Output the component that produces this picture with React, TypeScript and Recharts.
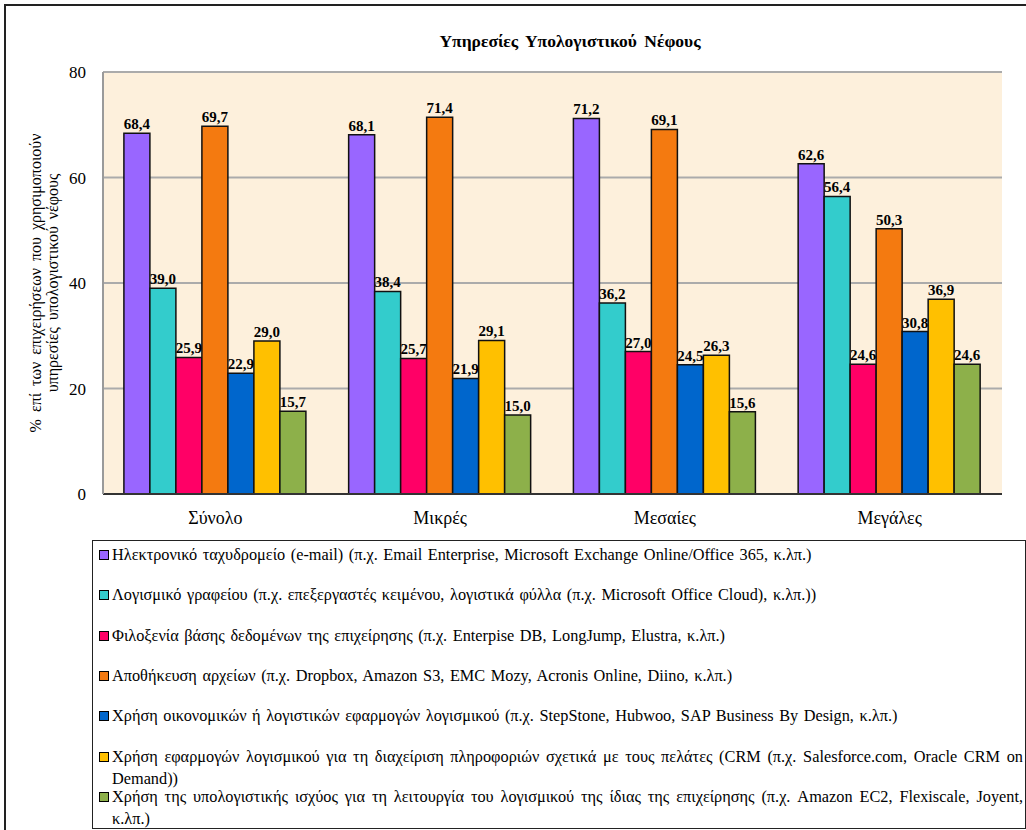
import React from "react";
import {
  Bar,
  BarChart,
  CartesianGrid,
  LabelList,
  Legend,
  XAxis,
  YAxis,
} from "recharts";

const categories = ["Σύνολο", "Μικρές", "Μεσαίες", "Μεγάλες"];
const email = [68.4, 68.1, 71.2, 62.6];
const office = [39.0, 38.4, 36.2, 56.4];
const database = [25.9, 25.7, 27.0, 24.6];
const storage = [69.7, 71.4, 69.1, 50.3];
const finance = [22.9, 21.9, 24.5, 30.8];
const crm = [29.0, 29.1, 26.3, 36.9];
const compute = [15.7, 15.0, 15.6, 24.6];
const yTicks = [0, 20, 40, 60, 80];

const seriesNames = [
  "Ηλεκτρονικό ταχυδρομείο (e-mail) (π.χ. Email Enterprise, Microsoft Exchange Online/Office 365, κ.λπ.)",
  "Λογισμικό γραφείου (π.χ. επεξεργαστές κειμένου, λογιστικά φύλλα (π.χ. Microsoft Office Cloud), κ.λπ.))",
  "Φιλοξενία βάσης δεδομένων της επιχείρησης (π.χ. Enterpise DB, LongJump, Elustra, κ.λπ.)",
  "Αποθήκευση αρχείων (π.χ. Dropbox, Amazon S3, EMC Mozy, Acronis Online, Diino, κ.λπ.)",
  "Χρήση οικονομικών ή λογιστικών εφαρμογών λογισμικού (π.χ. StepStone, Hubwoo, SAP Business By Design, κ.λπ.)",
  "Χρήση εφαρμογών λογισμικού για τη διαχείριση πληροφοριών σχετικά με τους πελάτες (CRM (π.χ. Salesforce.com, Oracle CRM on Demand))",
  "Χρήση της υπολογιστικής ισχύος για τη λειτουργία του λογισμικού της ίδιας της επιχείρησης (π.χ. Amazon EC2, Flexiscale, Joyent, κ.λπ.)",
];
const seriesKeys = ["email", "office", "database", "storage", "finance", "crm", "compute"];
const seriesColors = ["#9966FF", "#33CCCC", "#FF0066", "#F47A10", "#0066CC", "#FFC000", "#8DB04A"];
const seriesValues = [email, office, database, storage, finance, crm, compute];

const data = categories.map((name, i) => {
  const row: Record<string, string | number> = { name };
  seriesKeys.forEach((k, s) => {
    row[k] = seriesValues[s][i];
  });
  return row;
});

const FONT = '"Liberation Serif", "DejaVu Serif", serif';

const fmt = (v: any) => Number(v).toFixed(1).replace(".", ",");

const YLabel = (props: any) => {
  const { viewBox } = props;
  const cy = viewBox.y + viewBox.height / 2;
  const lines = [
    { x: 35, text: "% επί των επιχειρήσεων που χρησιμοποιούν" },
    { x: 52, text: "υπηρεσίες υπολογιστικού νέφους" },
  ];
  return (
    <g>
      {lines.map((l) => (
        <text
          key={l.x}
          x={l.x}
          y={cy}
          transform={`rotate(-90, ${l.x}, ${cy})`}
          textAnchor="middle"
          dominantBaseline="central"
          fontSize={16}
          fontFamily={FONT}
          wordSpacing={3}
          fill="#000"
        >
          {l.text}
        </text>
      ))}
    </g>
  );
};

const LegendBox = (props: any) => {
  const items = [...(props.payload || [])].sort(
    (a: any, b: any) => seriesNames.indexOf(a.value) - seriesNames.indexOf(b.value)
  );
  return (
    <div
      style={{
        position: "relative",
        width: "100%",
        height: "100%",
        border: "1.5px solid #222",
        boxSizing: "border-box",
        fontFamily: FONT,
        fontSize: 16.3,
        wordSpacing: 1.5,
        color: "#000",
      }}
    >
      {items.map((entry: any, i: number) => (
        <div
          key={i}
          style={{
            position: "absolute",
            left: 6,
            right: 2,
            top: 3 + i * 40.3,
            display: "flex",
            alignItems: "flex-start",
            lineHeight: "22px",
          }}
        >
          <span
            style={{
              display: "inline-block",
              width: 8,
              height: 8,
              marginTop: 6,
              marginRight: 3,
              background: entry.color,
              border: "1.5px solid #000",
              flexShrink: 0,
            }}
          />
          <span style={{ textAlign: "justify" }}>{entry.value}</span>
        </div>
      ))}
    </div>
  );
};

export default function App() {
  return (
    <div
      style={{
        position: "absolute",
        left: 0,
        top: 0,
        width: 1026,
        height: 830,
        background: "#fff",
        overflow: "hidden",
      }}
    >
      <div
        style={{
          position: "absolute",
          left: 4,
          top: 4,
          width: 1040,
          height: 840,
          borderLeft: "2.5px solid #222",
          borderTop: "2.5px solid #222",
        }}
      />
      <div
        style={{
          position: "absolute",
          left: 0,
          width: 1140,
          top: 31,
          textAlign: "center",
          fontFamily: FONT,
          fontWeight: "bold",
          fontSize: 17.5,
          wordSpacing: 3,
        }}
      >
        Υπηρεσίες Υπολογιστικού Νέφους
      </div>
      <BarChart
        width={1026}
        height={830}
        data={data}
        margin={{ top: 72, right: 24, left: 0, bottom: 306 }}
        barCategoryGap="9.3%"
        barGap={0}
        style={{ position: "absolute", left: 0, top: 0 }}
      >
        <CartesianGrid
          vertical={false}
          stroke="#ABABAB"
          strokeWidth={2}
          fill="#FDF0DC"
          fillOpacity={1}
        />
        <XAxis
          dataKey="name"
          tickLine={false}
          axisLine={{ stroke: "#333", strokeWidth: 2 }}
          tick={{ fontSize: 18, fontFamily: FONT, fill: "#000" }}
          tickMargin={11}
          height={30}
        />
        <YAxis
          width={103}
          domain={[0, 80]}
          ticks={yTicks}
          tickLine={false}
          axisLine={{ stroke: "#9A9A9A", strokeWidth: 2 }}
          tick={{ fontSize: 17, fontFamily: FONT, fill: "#000" }}
          tickMargin={11}
          label={<YLabel />}
        />
        <YAxis
          yAxisId="frame"
          orientation="right"
          width={0}
          tick={false}
          tickLine={false}
          axisLine={{ stroke: "#9A9A9A", strokeWidth: 2 }}
        />
        <Legend
          layout="horizontal"
          verticalAlign="middle"
          align="center"
          wrapperStyle={{ left: 92, top: 540, width: 934, height: 289 }}
          content={<LegendBox />}
        />
        {seriesKeys.map((k, s) => (
          <Bar
            key={k}
            dataKey={k}
            name={seriesNames[s]}
            fill={seriesColors[s]}
            stroke="#111"
            strokeWidth={1.5}
            isAnimationActive={false}
          >
            <LabelList
              dataKey={k}
              position="top"
              offset={4}
              formatter={fmt}
              style={{ fontSize: 15, fontWeight: "bold", fontFamily: FONT, fill: "#000" }}
            />
          </Bar>
        ))}
      </BarChart>
    </div>
  );
}
